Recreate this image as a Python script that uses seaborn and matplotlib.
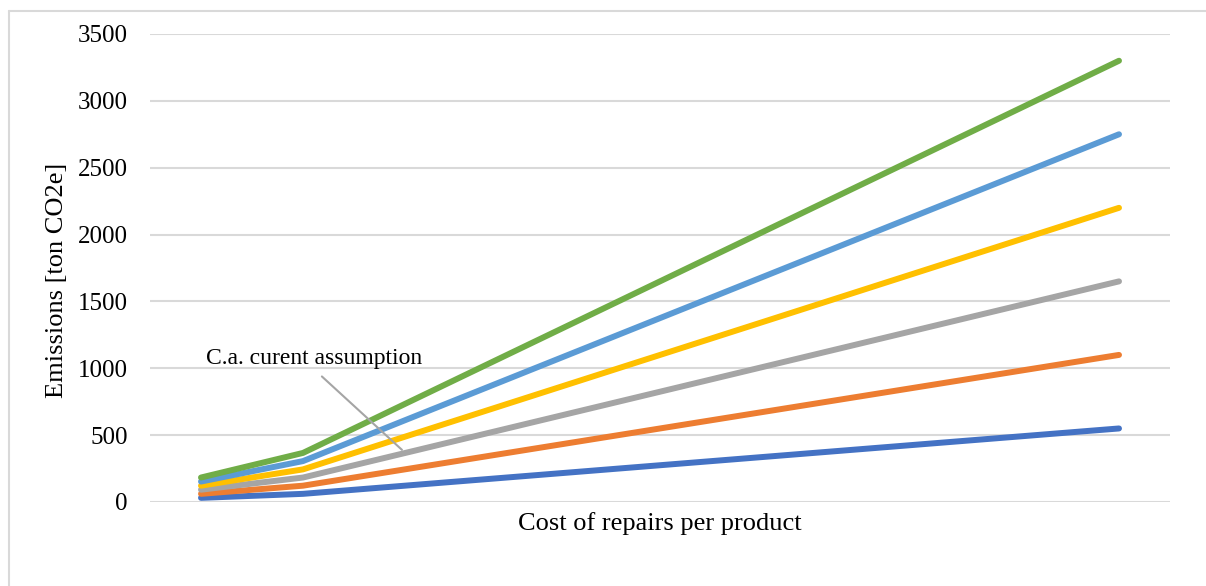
import matplotlib
matplotlib.use("Agg")
import matplotlib.pyplot as plt
from matplotlib.lines import Line2D
import seaborn as sns
import pandas as pd

# Category positions of the three cost levels on a 10-slot category axis
cost_positions = [1, 2, 10]

# Emissions [ton CO2e] per scenario at each cost level
scenario_1 = [31, 61, 550]
scenario_2 = [61, 122, 1100]
scenario_3 = [92, 183, 1650]
scenario_4 = [122, 244, 2200]
scenario_5 = [153, 306, 2750]
scenario_6 = [183, 367, 3300]

series_names = ["S1", "S2", "S3", "S4", "S5", "S6"]
series_values = [scenario_1, scenario_2, scenario_3, scenario_4, scenario_5, scenario_6]
series_colors = ["#4472C4", "#ED7D31", "#A5A5A5", "#FFC000", "#5B9BD5", "#70AD47"]

y_ticks = [0, 500, 1000, 1500, 2000, 2500, 3000, 3500]

rows = []
for name, vals in zip(series_names, series_values):
    for x, v in zip(cost_positions, vals):
        rows.append({"series": name, "cost": x, "emissions": v})
df = pd.DataFrame(rows)

sns.set_theme(style="white")
plt.rcParams["font.family"] = ["Liberation Serif", "DejaVu Serif"]
plt.rcParams["text.color"] = "#000000"

fig = plt.figure(figsize=(12.06, 5.86), dpi=100)
ax = fig.add_axes([150 / 1206, 1 - 502 / 586, 1020 / 1206, (502 - 34) / 586])

sns.lineplot(data=df, x="cost", y="emissions", hue="series",
             palette=dict(zip(series_names, series_colors)),
             linewidth=4.3, legend=False, ax=ax, zorder=3)
for ln in ax.get_lines():
    ln.set_solid_capstyle("round")
    ln.set_solid_joinstyle("round")

ax.set_xlim(0.5, 10.5)
ax.set_ylim(0, 3500)
ax.set_yticks(y_ticks)
ax.set_yticklabels([str(t) for t in y_ticks], fontsize=18, color="#000000")
ax.set_xticks([])
ax.tick_params(axis="y", length=0, pad=16)
ax.yaxis.grid(True, color="#D9D9D9", linewidth=1.5)
ax.xaxis.grid(False)
for s in ax.spines.values():
    s.set_visible(False)

ax.set_xlabel("Cost of repairs per product", fontsize=19, color="#000000", labelpad=7)
ax.set_ylabel("Emissions [ton CO2e]", fontsize=19, color="#000000")
ax.yaxis.set_label_coords(-0.080, 0.474)

ax.annotate("C.a. curent assumption", xy=(2.97, 390), xytext=(2.11, 1070),
            textcoords="data", ha="center", va="center", fontsize=17, color="#000000",
            arrowprops=dict(arrowstyle="-", color="#A5A5A5", lw=1.5,
                            relpos=(0.5, 0.0), shrinkA=4, shrinkB=0))

# Chart-area frame (open on the right and bottom)
x0 = 8.5 / 1206
y0 = 1 - 10.5 / 586
fig.add_artist(Line2D([x0, x0], [0, y0], transform=fig.transFigure, color="#D9D9D9", lw=1.5))
fig.add_artist(Line2D([x0, 1], [y0, y0], transform=fig.transFigure, color="#D9D9D9", lw=1.5))

fig.savefig("out.png", dpi=100)
